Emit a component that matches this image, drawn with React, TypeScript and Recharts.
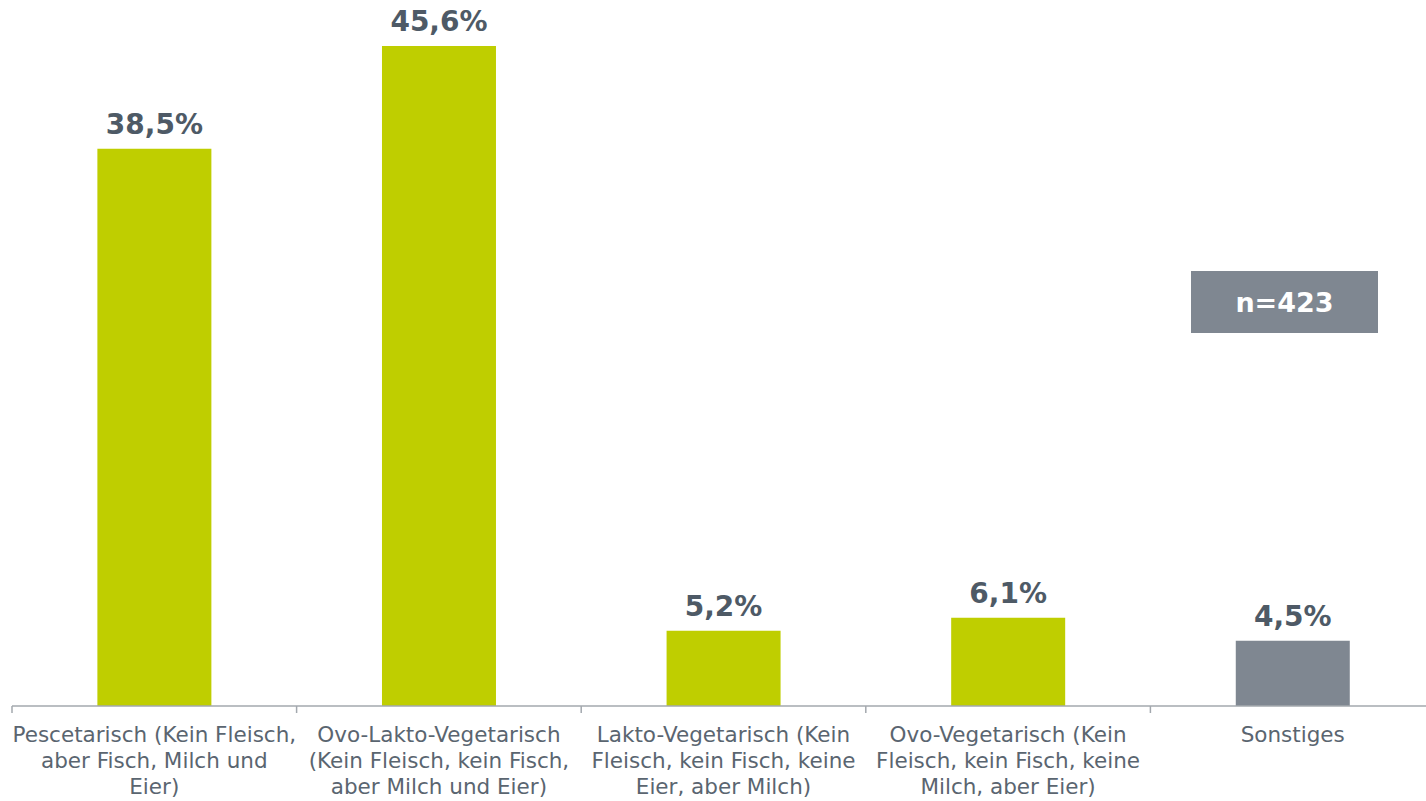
import React from 'react';
import { BarChart, Bar, XAxis, YAxis, Cell, LabelList } from 'recharts';

const categories = [
  'Pescetarisch (Kein Fleisch, aber Fisch, Milch und Eier)',
  'Ovo-Lakto-Vegetarisch (Kein Fleisch, kein Fisch, aber Milch und Eier)',
  'Lakto-Vegetarisch (Kein Fleisch, kein Fisch, keine Eier, aber Milch)',
  'Ovo-Vegetarisch (Kein Fleisch, kein Fisch, keine Milch, aber Eier)',
  'Sonstiges',
];
const categoryLines = [
  ['Pescetarisch (Kein Fleisch,', 'aber Fisch, Milch und', 'Eier)'],
  ['Ovo-Lakto-Vegetarisch', '(Kein Fleisch, kein Fisch,', 'aber Milch und Eier)'],
  ['Lakto-Vegetarisch (Kein', 'Fleisch, kein Fisch, keine', 'Eier, aber Milch)'],
  ['Ovo-Vegetarisch (Kein', 'Fleisch, kein Fisch, keine', 'Milch, aber Eier)'],
  ['Sonstiges'],
];
const values = [38.5, 45.6, 5.2, 6.1, 4.5];
const barColors = ['#bfce00', '#bfce00', '#bfce00', '#bfce00', '#7f8791'];
const sampleNote = 'n=423';

const data = categories.map((c, i) => ({ name: c, value: values[i], idx: i }));

const FONT = 'Verdana, "DejaVu Sans", sans-serif';
const LABEL_COLOR = '#4e5a66';
const TICK_COLOR = '#5a6570';
const AXIS_COLOR = '#a3a8ae';

const fmt = (v: number) => v.toFixed(1).replace('.', ',') + '%';

const CategoryTick = (props: any) => {
  const { x, y, payload, index } = props;
  const off = payload && typeof payload.offset === 'number' ? payload.offset : 142.3;
  const lines = categoryLines[index] || [String(payload.value)];
  return (
    <g>
      <line x1={x - off} y1={y - 8} x2={x - off} y2={y - 1} stroke={AXIS_COLOR} strokeWidth={1.5} />
      <text x={x} y={y + 28} textAnchor="middle" fill={TICK_COLOR} fontSize={21.5} fontFamily={FONT}>
        {lines.map((l: string, i: number) => (
          <tspan key={i} x={x} dy={i === 0 ? 0 : 26}>{l}</tspan>
        ))}
      </text>
    </g>
  );
};

const ValueLabel = (props: any) => {
  const { x, y, width, value } = props;
  return (
    <text x={x + width / 2} y={y - 15} textAnchor="middle" fill={LABEL_COLOR} fontSize={28} fontWeight="bold" fontFamily={FONT}>
      {fmt(value)}
    </text>
  );
};

export default function App() {
  return (
    <div style={{ position: 'absolute', left: 0, top: 0, width: 1426, height: 801, overflow: 'hidden', background: '#fff' }}>
      <BarChart width={1435} height={801} data={data} margin={{ top: 46, right: 0, bottom: 0, left: 12 }} barCategoryGap="30%">
        <XAxis
          dataKey="name"
          height={95}
          tickLine={false}
          axisLine={{ stroke: AXIS_COLOR, strokeWidth: 1.5 }}
          tick={<CategoryTick />}
          interval={0}
        />
        <YAxis hide domain={[0, 'dataMax']} />
        <Bar dataKey="value" isAnimationActive={false}>
          {data.map((d, i) => (
            <Cell key={i} fill={barColors[i]} />
          ))}
          <LabelList dataKey="value" content={<ValueLabel />} />
        </Bar>
      </BarChart>
      <div
        style={{
          position: 'absolute', left: 1191, top: 271, width: 187, height: 62,
          background: '#7f8791', color: '#fff', fontFamily: FONT, fontWeight: 'bold', fontSize: 27,
          display: 'flex', alignItems: 'center', justifyContent: 'center',
        }}
      >
        {sampleNote}
      </div>
    </div>
  );
}
